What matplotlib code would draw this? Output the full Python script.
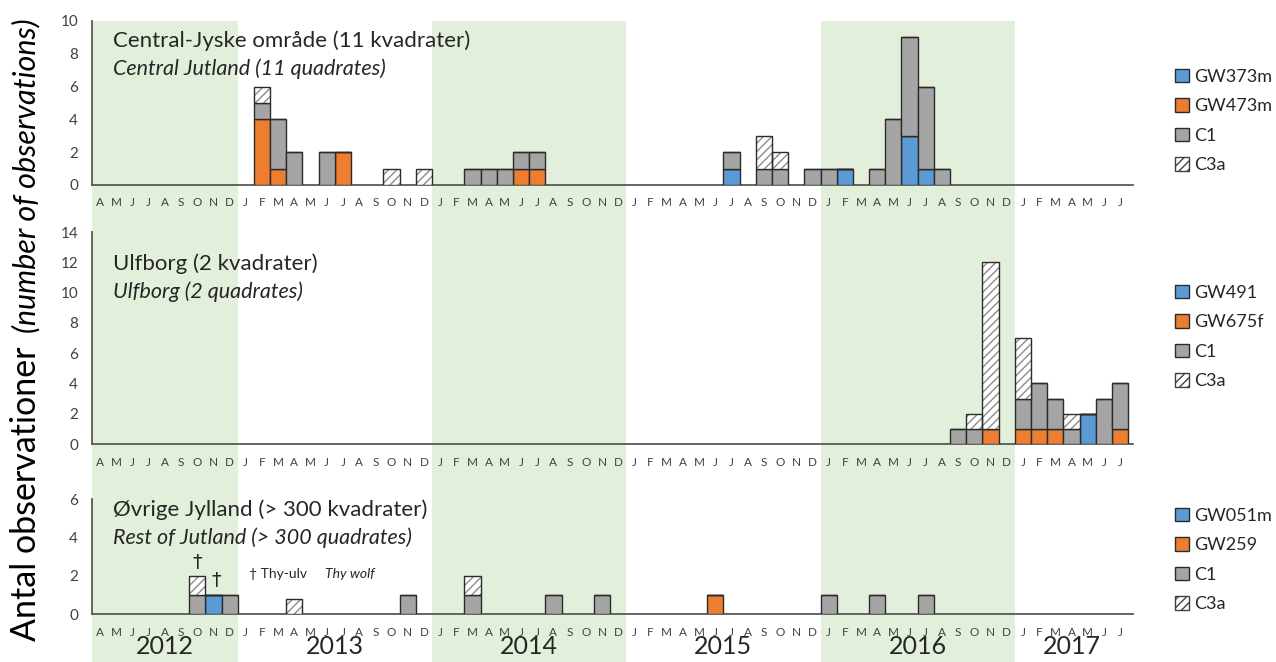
import matplotlib
matplotlib.use("Agg")
import matplotlib.pyplot as plt
from matplotlib.patches import Patch

plt.rcParams["font.family"] = ["Lato", "DejaVu Sans"]

# Month letters from April 2012 to July 2017
MONTH_LETTERS = list("AMJJASOND") + list("JFMAMJJASOND") * 4 + list("JFMAMJJ")
YEARS = ["2012", "2013", "2014", "2015", "2016", "2017"]

# Central Jutland (11 quadrates)
central_months = ["2013-02", "2013-03", "2013-04", "2013-06", "2013-07", "2013-10",
                  "2013-12", "2014-03", "2014-04", "2014-05", "2014-06", "2014-07",
                  "2015-07", "2015-09", "2015-10", "2015-12", "2016-01", "2016-02",
                  "2016-04", "2016-05", "2016-06", "2016-07", "2016-08"]
central_gw373m = [0, 0, 0, 0, 0, 0, 0, 0, 0, 0, 0, 0, 1, 0, 0, 0, 0, 1, 0, 0, 3, 1, 0]
central_gw473m = [4, 1, 0, 0, 2, 0, 0, 0, 0, 0, 1, 1, 0, 0, 0, 0, 0, 0, 0, 0, 0, 0, 0]
central_c1 = [1, 3, 2, 2, 0, 0, 0, 1, 1, 1, 1, 1, 1, 1, 1, 1, 1, 0, 1, 4, 6, 5, 1]
central_c3a = [1, 0, 0, 0, 0, 1, 1, 0, 0, 0, 0, 0, 0, 2, 1, 0, 0, 0, 0, 0, 0, 0, 0]

# Ulfborg (2 quadrates)
ulfborg_months = ["2016-09", "2016-10", "2016-11", "2017-01", "2017-02", "2017-03",
                  "2017-04", "2017-05", "2017-06", "2017-07"]
ulfborg_gw491 = [0, 0, 0, 0, 0, 0, 0, 2, 0, 0]
ulfborg_gw675f = [0, 0, 1, 1, 1, 1, 0, 0, 0, 1]
ulfborg_c1 = [1, 1, 0, 2, 3, 2, 1, 0, 3, 3]
ulfborg_c3a = [0, 1, 11, 4, 0, 0, 1, 0, 0, 0]

# Rest of Jutland (> 300 quadrates)
rest_months = ["2012-10", "2012-11", "2012-12", "2013-04", "2013-11", "2014-03",
               "2014-08", "2014-11", "2015-06", "2016-01", "2016-04", "2016-07"]
rest_gw051m = [0, 1, 0, 0, 0, 0, 0, 0, 0, 0, 0, 0]
rest_gw259 = [0, 0, 0, 0, 0, 0, 0, 0, 1, 0, 0, 0]
rest_c1 = [1, 0, 1, 0, 1, 1, 1, 1, 0, 1, 1, 1]
rest_c3a = [1, 0, 0, 0.8, 0, 1, 0, 0, 0, 0, 0, 0]

BLUE = "#5b9bd5"
ORANGE = "#ed7d31"
GRAY = "#a5a5a5"
EDGE = "#2b2b2b"
GREEN = "#e2efda"
TEXT = "#262626"

W, H = 1276, 662
XMIN, XMAX = -0.5, 63.8


def month_index(label):
    year, month = label.split("-")
    return (int(year) - 2012) * 12 + int(month) - 4


def px_axes(fig, left, top, right, bottom):
    return fig.add_axes([left / W, 1 - bottom / H, (right - left) / W, (bottom - top) / H])


def stacked(ax, months, blue, orange, c1, c3a):
    x = [month_index(m) for m in months]
    bottom = [0] * len(x)
    for vals, color in ((blue, BLUE), (orange, ORANGE), (c1, GRAY)):
        ax.bar(x, vals, 1.0, bottom=bottom, color=color, edgecolor=EDGE,
               linewidth=1.0, zorder=3)
        bottom = [b + v for b, v in zip(bottom, vals)]
    # hatch first, then a clean outline over it
    ax.bar(x, c3a, 1.0, bottom=bottom, color="white", edgecolor="#8c8c8c",
           hatch="////", linewidth=0, zorder=3)
    ax.bar(x, c3a, 1.0, bottom=bottom, color="none", edgecolor=EDGE,
           linewidth=1.0, zorder=4)


def style_panel(ax, ymax):
    ax.set_facecolor("none")
    ax.set_xlim(XMIN, XMAX)
    ax.set_ylim(0, ymax)
    ax.set_yticks(range(0, ymax + 1, 2))
    ax.set_xticks(range(len(MONTH_LETTERS)))
    ax.set_xticklabels(MONTH_LETTERS)
    ax.tick_params(axis="x", length=0, pad=9, labelsize=8.5, labelcolor="#404040")
    ax.tick_params(axis="y", length=0, pad=10, labelsize=11, labelcolor="#404040")
    for side in ("top", "right"):
        ax.spines[side].set_visible(False)
    for side in ("left", "bottom"):
        ax.spines[side].set_color("#595959")
        ax.spines[side].set_linewidth(1.3)


def panel_legend(ax, fig, labels, ycenter):
    handles = [Patch(facecolor=BLUE, edgecolor=EDGE),
               Patch(facecolor=ORANGE, edgecolor=EDGE),
               Patch(facecolor=GRAY, edgecolor=EDGE),
               Patch(facecolor="white", edgecolor="#404040", hatch="////")]
    ax.legend(handles, labels, loc="center left",
              bbox_to_anchor=(1168 / W, 1 - ycenter / H),
              bbox_transform=fig.transFigure, frameon=False, fontsize=13,
              handlelength=0.75, handleheight=0.75, handletextpad=0.3,
              labelspacing=0.75, borderaxespad=0, labelcolor=TEXT)


def main():
    fig = plt.figure(figsize=(W / 100, H / 100), dpi=100)

    # green bands behind alternate years
    bg = px_axes(fig, 92, 21, 1133, 662)
    bg.set_xlim(XMIN, XMAX)
    bg.set_ylim(0, 1)
    bg.axis("off")
    for start in (-0.5, 20.5, 44.5):
        bg.axvspan(start, start + 12 if start > 0 else 8.5, color=GREEN, lw=0)
    year_x = [4, 14.5, 26.5, 38.5, 50.5, 60]
    for xpos, year in zip(year_x, YEARS):
        bg.text(xpos, 15 / (662 - 21), year, ha="center", va="center",
                fontsize=18, color=TEXT)

    ax1 = px_axes(fig, 92, 21, 1133, 185)
    ax2 = px_axes(fig, 92, 232, 1133, 444)
    ax3 = px_axes(fig, 92, 499, 1133, 614)

    stacked(ax1, central_months, central_gw373m, central_gw473m, central_c1, central_c3a)
    stacked(ax2, ulfborg_months, ulfborg_gw491, ulfborg_gw675f, ulfborg_c1, ulfborg_c3a)
    stacked(ax3, rest_months, rest_gw051m, rest_gw259, rest_c1, rest_c3a)

    style_panel(ax1, 10)
    style_panel(ax2, 14)
    style_panel(ax3, 6)

    titles = [("Central-Jyske område (11 kvadrater)", "Central Jutland (11 quadrates)", 41, 69),
              ("Ulfborg (2 kvadrater)", "Ulfborg (2 quadrates)", 264, 292),
              ("Øvrige Jylland (> 300 kvadrater)", "Rest of Jutland (> 300 quadrates)", 510, 538)]
    for da, en, y1, y2 in titles:
        fig.text(113 / W, 1 - y1 / H, da, ha="left", va="center", fontsize=16, color=TEXT)
        fig.text(113 / W, 1 - y2 / H, en, ha="left", va="center", fontsize=15.5,
                 style="italic", color=TEXT)

    panel_legend(ax1, fig, ["GW373m", "GW473m", "C1", "C3a"], 121)
    panel_legend(ax2, fig, ["GW491", "GW675f", "C1", "C3a"], 337)
    panel_legend(ax3, fig, ["GW051m", "GW259", "C1", "C3a"], 560)

    # Thy wolf markers
    ax3.text(6, 2.7, "†", ha="center", va="center", fontsize=14, color=TEXT,
             family="DejaVu Sans")
    ax3.text(7.15, 1.75, "†", ha="center", va="center", fontsize=14, color=TEXT,
             family="DejaVu Sans")
    ax3.text(9.2, 2.1, "† Thy-ulv", ha="left", va="center", fontsize=10, color=TEXT)
    ax3.text(13.9, 2.1, "Thy wolf", ha="left", va="center", fontsize=10,
             style="italic", color=TEXT)

    fig.text(26 / W, 1 - 641 / H, "Antal observationer", rotation=90,
             ha="center", va="bottom", fontsize=24.5, color="black")
    fig.text(26 / W, 1 - 18 / H, "(number of observations)", rotation=90,
             ha="center", va="top", fontsize=22, style="italic", color="black")

    fig.savefig("out.png", dpi=100)


if __name__ == "__main__":
    main()
